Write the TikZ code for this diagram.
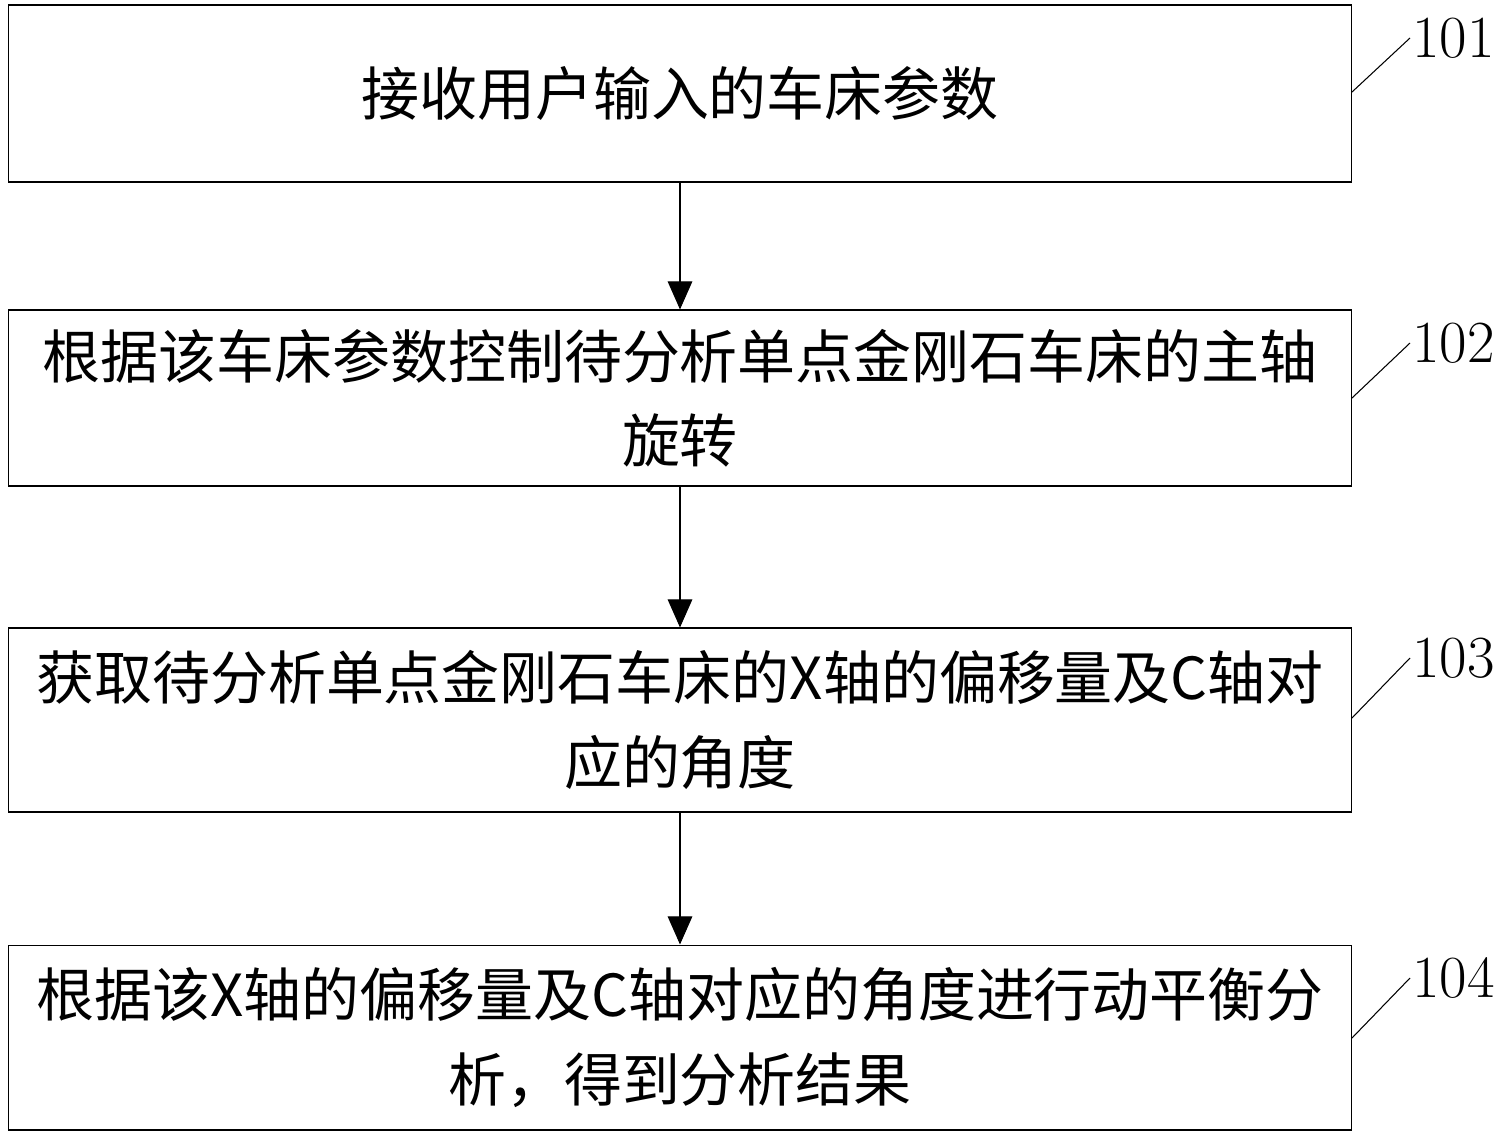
\documentclass[tikz,border=0pt]{standalone}
\usepackage{fontspec}
\usetikzlibrary{arrows.meta}
\newfontfamily\cjk{Noto Sans CJK SC}
\begin{document}
\begin{tikzpicture}[x=0.02cm, y=-0.02cm, line width = 0.6pt,
  stepbox/.style={draw, minimum width=26.88cm, align=center, font=\cjk\fontsize{33}{48}\selectfont},
  tag/.style={font=\fontsize{34}{38}\selectfont, anchor=west, inner sep=1pt}]
\useasboundingbox (0,0) rectangle (1508,1139);
\draw (680,93.5) node[stepbox, minimum height=3.54cm](s1){接收用户输入的车床参数}
    (680,398) node[stepbox, minimum height=3.52cm](s2){根据该车床参数控制待分析单点金刚石车床的主轴\\旋转}
    (680,720) node[stepbox, minimum height=3.68cm](s3){获取待分析单点金刚石车床的X轴的偏移量及C轴对\\应的角度}
    (680,1037.5) node[stepbox, minimum height=3.7cm](s4){根据该X轴的偏移量及C轴对应的角度进行动平衡分\\析，得到分析结果};
    \draw [-{Triangle[length=16pt,width=14pt]}] (s1) -- (s2);
    \draw [-{Triangle[length=16pt,width=14pt]}] (s2) -- (s3);
    \draw [-{Triangle[length=16pt,width=14pt]}] (s3) -- (s4);
    \draw (1352,92) -- (1410,38) node[tag] (t1) {101};
    \draw (1352,398) -- (1410,343) node[tag] (t2) {102};
    \draw (1352,718) -- (1410,658) node[tag] (t3) {103};
    \draw (1352,1038) -- (1410,978) node[tag] (t4) {104};
\end{tikzpicture}
\end{document}
